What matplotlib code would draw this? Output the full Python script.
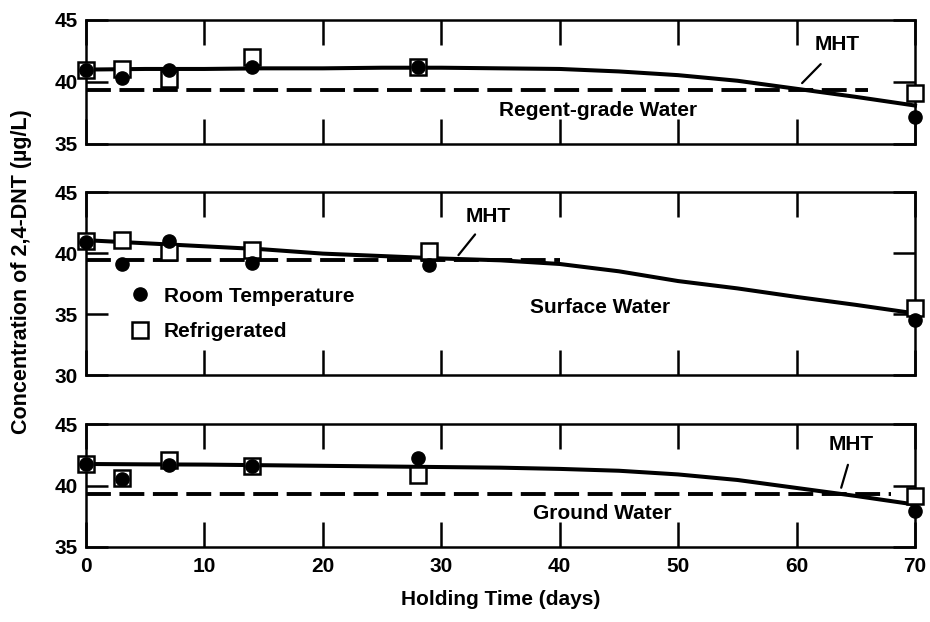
import matplotlib.pyplot as plt
from matplotlib.lines import Line2D

plt.rcParams['font.family'] = ['Liberation Sans', 'DejaVu Sans']
plt.rcParams['font.weight'] = 'bold'
plt.rcParams['axes.labelweight'] = 'bold'

# sampling days for each panel
days_top = [0, 3, 7, 14, 28, 70]
days_mid = [0, 3, 7, 14, 29, 70]
days_bot = [0, 3, 7, 14, 28, 70]

# measured concentrations (ug/L)
top_room = [41.0, 40.3, 41.0, 41.2, 41.2, 37.2]
top_ref = [41.0, 41.05, 40.2, 42.0, 41.2, 39.1]
mid_room = [40.9, 39.1, 41.0, 39.2, 39.0, 34.5]
mid_ref = [41.0, 41.1, 40.1, 40.25, 40.2, 35.5]
bot_room = [41.75, 40.55, 41.65, 41.6, 42.2, 37.9]
bot_ref = [41.75, 40.6, 42.05, 41.6, 40.85, 39.15]

# fitted curves
fit_days = [0, 5, 10, 15, 20, 25, 30, 35, 40, 45, 50, 55, 60, 65, 70]
top_fit = [41.0, 41.05, 41.05, 41.1, 41.1, 41.15, 41.15, 41.1, 41.05, 40.85, 40.55, 40.1, 39.45, 38.8, 38.1]
mid_fit = [41.05, 40.8, 40.55, 40.3, 39.95, 39.75, 39.55, 39.4, 39.1, 38.5, 37.7, 37.1, 36.4, 35.75, 35.05]
bot_fit = [41.75, 41.72, 41.7, 41.65, 41.6, 41.55, 41.5, 41.45, 41.35, 41.2, 40.9, 40.45, 39.8, 39.15, 38.45]

# MHT dashed line level and how far it runs
mht_level = [39.35, 39.4, 39.3]
mht_end = [66, 40, 68]

panel_names = ['Regent-grade Water', 'Surface Water', 'Ground Water']
ylims = [(35, 45), (30, 45), (35, 45)]
yticks = [[35, 40, 45], [30, 35, 40, 45], [35, 40, 45]]
xticks = [0, 10, 20, 30, 40, 50, 60, 70]

FS = 15
fig = plt.figure(figsize=(9.3, 6.22), dpi=100)
axes = [fig.add_axes([0.0925, 0.7685, 0.8914, 0.1994]),
        fig.add_axes([0.0925, 0.3971, 0.8914, 0.2942]),
        fig.add_axes([0.0925, 0.1206, 0.8914, 0.1977])]

days = [days_top, days_mid, days_bot]
room = [top_room, mid_room, bot_room]
ref = [top_ref, mid_ref, bot_ref]
fits = [top_fit, mid_fit, bot_fit]

# text/leader positions in data coords
name_pos = [(43.2, 37.7), (43.4, 35.5), (43.6, 37.75)]
mht_text = [(63.4, 43.0), (34.0, 43.0), (64.6, 43.35)]
mht_from = [(62.2, 41.6), (33.0, 41.7), (64.4, 41.9)]
mht_to = [(60.3, 39.75), (31.3, 39.65), (63.7, 39.6)]

for i, ax in enumerate(axes):
    ax.plot(fit_days, fits[i], color='black', lw=2.9, zorder=2, clip_on=False)
    ax.plot([0, mht_end[i]], [mht_level[i], mht_level[i]], color='black', lw=2.8,
            dashes=(6.4, 2.2), zorder=2)
    ax.plot(days[i], ref[i], ls='none', marker='s', ms=12, mfc='white', mec='black',
            mew=1.8, zorder=3, clip_on=False)
    ax.plot(days[i], room[i], ls='none', marker='o', ms=9.5, mfc='black', mec='black',
            zorder=4, clip_on=False)

    ax.set_xlim(0, 70)
    ax.set_ylim(*ylims[i])
    ax.set_xticks(xticks)
    ax.set_yticks(yticks[i])
    ax.tick_params(direction='in', top=True, right=True, width=1.8, labelsize=FS)
    ax.tick_params(axis='x', length=18, pad=7)
    ax.tick_params(axis='y', length=16, pad=6)
    if i < 2:
        ax.tick_params(axis='x', labelbottom=False)
    for s in ax.spines.values():
        s.set_linewidth(1.8)

    ax.text(name_pos[i][0], name_pos[i][1], panel_names[i], fontsize=FS,
            ha='center', va='center')
    ax.annotate('', xy=mht_to[i], xytext=mht_from[i],
                arrowprops=dict(arrowstyle='-', color='black', lw=1.6))
    ax.text(mht_text[i][0], mht_text[i][1], 'MHT', fontsize=FS, ha='center', va='center')

handles = [Line2D([], [], ls='none', marker='o', ms=9.5, mfc='black', mec='black'),
           Line2D([], [], ls='none', marker='s', ms=12, mfc='white', mec='black', mew=1.8)]
axes[1].legend(handles, ['Room Temperature', 'Refrigerated'], loc='center left',
               bbox_to_anchor=(0.052, 0.333), frameon=False, fontsize=FS,
               handlelength=1.0, handletextpad=0.65, labelspacing=0.8, borderpad=0,
               borderaxespad=0)

axes[2].set_xlabel('Holding Time (days)', fontsize=FS, labelpad=10)
fig.text(22 / 930, 1 - 272 / 622, 'Concentration of 2,4-DNT (\u00b5g/L)', fontsize=15.5,
         rotation=90, ha='center', va='center')

fig.savefig('out.png', dpi=100)
